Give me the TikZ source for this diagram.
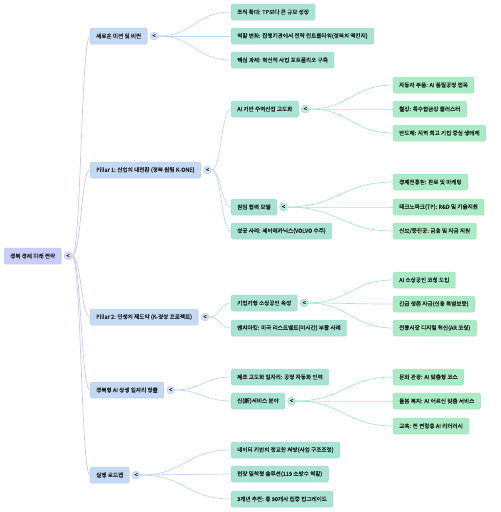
\documentclass[tikz,border=0pt]{standalone}
\usepackage{fontspec}
\setmainfont{Noto Sans CJK KR}[FakeBold=0.25]
\usetikzlibrary{positioning,shadows}

\definecolor{rootfill}{HTML}{C9CEF8}
\definecolor{rootline}{HTML}{B8BEF2}
\definecolor{topfill}{HTML}{C4D9F3}
\definecolor{topline}{HTML}{B2CBEC}
\definecolor{midfill}{HTML}{A9E3D3}
\definecolor{midline}{HTML}{93D8C5}
\definecolor{leaffill}{HTML}{AAEBC6}
\definecolor{leafline}{HTML}{94E0B5}
\definecolor{rootlink}{HTML}{C4C9F6}
\definecolor{toplink}{HTML}{C3D6F4}
\definecolor{midlink}{HTML}{AEE5D1}

\tikzset{
  box/.style={rounded corners=2pt, inner xsep=6pt, inner ysep=0pt,
    minimum height=16pt, anchor=west, line width=0.4pt,
    font=\fontsize{5.6}{6.5}\selectfont, text=black!90,
    drop shadow={opacity=0.12, shadow xshift=0.4pt, shadow yshift=-0.7pt}},
  rootbox/.style={box, fill=rootfill, draw=rootline},
  topbox/.style={box, fill=topfill, draw=topline},
  midbox/.style={box, fill=midfill, draw=midline},
  leafbox/.style={box, fill=leaffill, draw=leafline},
  fold/.style={circle, minimum size=8pt, inner sep=0pt, line width=0.3pt,
    font=\fontsize{6}{6}\selectfont, text=black!85},
  rootfold/.style={fold, fill=rootfill!80, draw=rootline},
  topfold/.style={fold, fill=topfill!80, draw=topline},
  midfold/.style={fold, fill=midfill!80, draw=midline},
  rootedge/.style={draw=rootlink, line width=0.7pt},
  topedge/.style={draw=toplink, line width=0.7pt},
  midedge/.style={draw=midlink, line width=0.7pt}
}

\begin{document}
\begin{tikzpicture}[x=1pt,y=-1pt]
\useasboundingbox (0,0) rectangle (501,512);
% root
\node[rootbox] (root) at (4,256) {경북 경제 미래 전략};
\node[rootfold, right=2.5pt of root] (rootfold) {\textless};
% first level
\node[topbox] (mission) at (90,36) {새로운 미션 및 비전};
\node[topbox] (pillarA) at (90,170) {Pillar 1: 산업의 대전환 (경북 원팀 K-ONE)};
\node[topbox] (pillarB) at (90,317) {Pillar 2: 민생의 재도약 (K-경상 프로젝트)};
\node[topbox] (jobs) at (90,390) {경북형 AI 상생 일자리 창출};
\node[topbox] (roadmap) at (90,475) {실행 로드맵};
\node[topfold, right=2.5pt of mission] (missionfold) {\textless};
\node[topfold, right=2.5pt of pillarA] (pillarAfold) {\textless};
\node[topfold, right=2.5pt of pillarB] (pillarBfold) {\textless};
\node[topfold, right=2.5pt of jobs] (jobsfold) {\textless};
\node[topfold, right=2.5pt of roadmap] (roadmapfold) {\textless};
% second level
\node[midbox] (scale) at (231,12) {조직 확대: TP보다 큰 규모 성장};
\node[midbox] (role) at (231,36) {역할 변화: 집행기관에서 전략 컨트롤타워(경북의 맥킨지)};
\node[midbox] (task) at (231,60) {핵심 과제: 혁신적 사업 포트폴리오 구축};
\node[midbox] (aiind) at (231,109) {AI 기반 주력산업 고도화};
\node[midbox] (oneteam) at (231,207) {원팀 협력 모델};
\node[midbox] (volvo) at (231,231) {성공 사례: 세아메카닉스(VOLVO 수주)};
\node[midbox] (smallbiz) at (231,303) {기업가형 소상공인 육성};
\node[midbox] (rust) at (231,328) {벤치마킹: 미국 리스트벨트(미시간) 부활 사례};
\node[midbox] (autojobs) at (231,377) {제조 고도화 일자리: 공정 자동화 인력};
\node[midbox] (newserv) at (231,401) {신(新)서비스 분야};
\node[midbox] (data) at (231,450) {데이터 기반의 정교한 처방(사업 구조조정)};
\node[midbox] (field) at (231,474) {현장 밀착형 솔루션(119 소방수 역할)};
\node[midbox] (years) at (231,499) {3개년 추진: 총 90개사 집중 업그레이드};
\node[midfold, right=2.5pt of aiind] (aiindfold) {\textless};
\node[midfold, right=2.5pt of oneteam] (oneteamfold) {\textless};
\node[midfold, right=2.5pt of smallbiz] (smallbizfold) {\textless};
\node[midfold, right=2.5pt of newserv] (newservfold) {\textless};
% third level
\node[leafbox] (auto) at (393,85) {자동차 부품: AI 품질공정 접목};
\node[leafbox] (steel) at (393,109) {철강: 특수합금강 클러스터};
\node[leafbox] (semi) at (393,133) {반도체: 지역 최고 기업 중심 생태계};
\node[leafbox] (gepa) at (393,182) {경제진흥원: 판로 및 마케팅};
\node[leafbox] (techpark) at (393,207) {테크노파크(TP): R\&D 및 기술지원};
\node[leafbox] (credit) at (393,231) {신보/중진공: 금융 및 자금 지원};
\node[leafbox] (coach) at (393,280) {AI 소상공인 코칭 도입};
\node[leafbox] (fund) at (393,304) {긴급 생존 자금(신용 특별보증)};
\node[leafbox] (market) at (393,328) {전통시장 디지털 혁신(AR 코칭)};
\node[leafbox] (tour) at (393,377) {문화 관광: AI 맞춤형 코스};
\node[leafbox] (care) at (393,401) {돌봄 복지: AI 어르신 맞춤 서비스};
\node[leafbox] (edu) at (393,426) {교육: 전 연령층 AI 리터러시};
% links from root
\begin{scope}[on background layer/.try]
\draw[rootedge] (rootfold.east) .. controls +(9,0) and +(-9,0) .. (mission.west);
\draw[rootedge] (rootfold.east) .. controls +(9,0) and +(-9,0) .. (pillarA.west);
\draw[rootedge] (rootfold.east) .. controls +(9,0) and +(-9,0) .. (pillarB.west);
\draw[rootedge] (rootfold.east) .. controls +(9,0) and +(-9,0) .. (jobs.west);
\draw[rootedge] (rootfold.east) .. controls +(9,0) and +(-9,0) .. (roadmap.west);
% links from first level
\draw[topedge] (missionfold.east) .. controls +(36,0) and +(-36,0) .. (scale.west);
\draw[topedge] (missionfold.east) .. controls +(36,0) and +(-36,0) .. (role.west);
\draw[topedge] (missionfold.east) .. controls +(36,0) and +(-36,0) .. (task.west);
\draw[topedge] (pillarAfold.east) .. controls +(10,0) and +(-10,0) .. (aiind.west);
\draw[topedge] (pillarAfold.east) .. controls +(10,0) and +(-10,0) .. (oneteam.west);
\draw[topedge] (pillarAfold.east) .. controls +(10,0) and +(-10,0) .. (volvo.west);
\draw[topedge] (pillarBfold.east) .. controls +(11,0) and +(-11,0) .. (smallbiz.west);
\draw[topedge] (pillarBfold.east) .. controls +(11,0) and +(-11,0) .. (rust.west);
\draw[topedge] (jobsfold.east) .. controls +(26,0) and +(-26,0) .. (autojobs.west);
\draw[topedge] (jobsfold.east) .. controls +(26,0) and +(-26,0) .. (newserv.west);
\draw[topedge] (roadmapfold.east) .. controls +(45,0) and +(-45,0) .. (data.west);
\draw[topedge] (roadmapfold.east) .. controls +(45,0) and +(-45,0) .. (field.west);
\draw[topedge] (roadmapfold.east) .. controls +(45,0) and +(-45,0) .. (years.west);
% links from second level
\draw[midedge] (aiindfold.east) .. controls +(40,0) and +(-40,0) .. (auto.west);
\draw[midedge] (aiindfold.east) .. controls +(40,0) and +(-40,0) .. (steel.west);
\draw[midedge] (aiindfold.east) .. controls +(40,0) and +(-40,0) .. (semi.west);
\draw[midedge] (oneteamfold.east) .. controls +(50,0) and +(-50,0) .. (gepa.west);
\draw[midedge] (oneteamfold.east) .. controls +(50,0) and +(-50,0) .. (techpark.west);
\draw[midedge] (oneteamfold.east) .. controls +(50,0) and +(-50,0) .. (credit.west);
\draw[midedge] (smallbizfold.east) .. controls +(40,0) and +(-40,0) .. (coach.west);
\draw[midedge] (smallbizfold.east) .. controls +(40,0) and +(-40,0) .. (fund.west);
\draw[midedge] (smallbizfold.east) .. controls +(40,0) and +(-40,0) .. (market.west);
\draw[midedge] (newservfold.east) .. controls +(47,0) and +(-47,0) .. (tour.west);
\draw[midedge] (newservfold.east) .. controls +(47,0) and +(-47,0) .. (care.west);
\draw[midedge] (newservfold.east) .. controls +(47,0) and +(-47,0) .. (edu.west);
\end{scope}
\end{tikzpicture}
\end{document}
